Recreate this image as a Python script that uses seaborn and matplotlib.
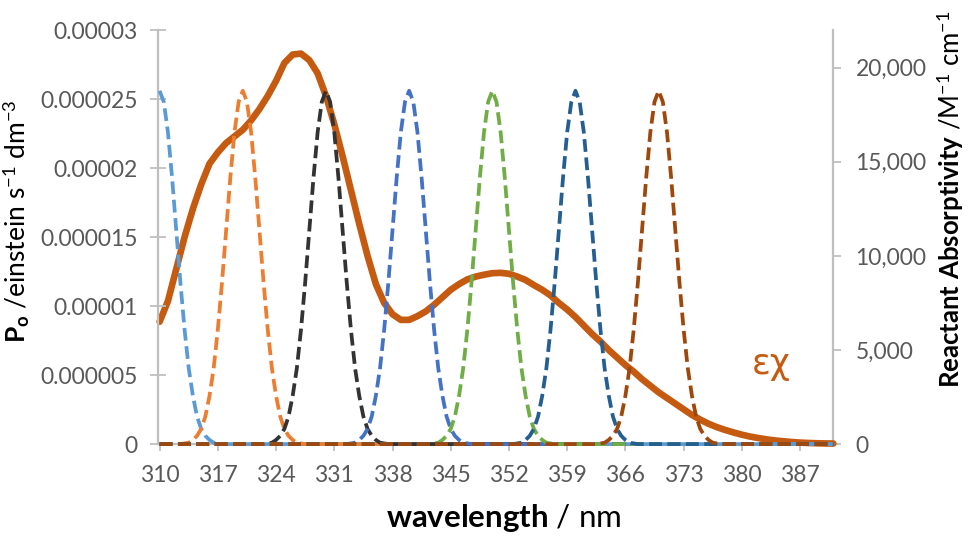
import numpy as np
import pandas as pd
import seaborn as sns
import matplotlib.pyplot as plt

# reactant absorptivity, every nm (M-1 cm-1)
eps_nm = list(range(310, 392))
eps_x = [6500, 7600, 9300, 11000, 12500, 13800, 14900, 15500, 16000, 16350,
         16700, 17200, 17800, 18500, 19300, 20250, 20700, 20750, 20400, 19700,
         18500, 17000, 15300, 13500, 11700, 10000, 8500, 7500, 6900, 6600,
         6600, 6800, 7050, 7400, 7800, 8200, 8500, 8750, 8900, 9000,
         9080, 9100, 9050, 8900, 8720, 8450, 8200, 7900, 7500, 7150,
         6750, 6300, 5850, 5450, 5000, 4600, 4200, 3850, 3450, 3100,
         2750, 2450, 2150, 1850, 1550, 1300, 1080, 900, 750, 620,
         500, 400, 320, 250, 190, 150, 110, 80, 60, 45,
         35, 30]

# lamp emission, same shape for every lamp, read in half-nm steps around the centre
lamp_centres = [310, 320, 330, 340, 350, 360, 370]
lamp_colors = ['#5B9BD5', '#ED7D31', '#333333', '#4472C4', '#70AD47', '#255E91', '#9E480E']
profile_offset = [-7.0, -6.5, -6.0, -5.5, -5.0, -4.5, -4.0, -3.5, -3.0, -2.5, -2.0, -1.5, -1.0, -0.5,
                  0.0, 0.5, 1.0, 1.5, 2.0, 2.5, 3.0, 3.5, 4.0, 4.5, 5.0, 5.5, 6.0, 6.5, 7.0]
profile_P = [0.05e-6, 0.1e-6, 0.3e-6, 0.6e-6, 1.1e-6, 2.0e-6, 3.5e-6, 5.5e-6, 8.3e-6, 11.7e-6,
             15.5e-6, 19.3e-6, 22.6e-6, 24.8e-6, 25.6e-6, 24.8e-6, 22.6e-6, 19.3e-6, 15.5e-6,
             11.7e-6, 8.3e-6, 5.5e-6, 3.5e-6, 2.0e-6, 1.1e-6, 0.6e-6, 0.3e-6, 0.1e-6, 0.05e-6]

x_ticks = [310, 317, 324, 331, 338, 345, 352, 359, 366, 373, 380, 387]
left_ticks = [0, 0.000005, 0.00001, 0.000015, 0.00002, 0.000025, 0.00003]
left_labels = ['0', '0.000005', '0.00001', '0.000015', '0.00002', '0.000025', '0.00003']
right_ticks = [0, 5000, 10000, 15000, 20000]
right_labels = ['0', '5,000', '10,000', '15,000', '20,000']

grid = np.arange(310, 391.01, 0.5)
rows = []
for c in lamp_centres:
    lookup = {c + o: p for o, p in zip(profile_offset, profile_P)}
    for w in grid:
        rows.append((c, w, lookup.get(w, 0.0)))
lamps = pd.DataFrame(rows, columns=['centre', 'wavelength', 'P'])
eps = pd.DataFrame({'wavelength': eps_nm, 'eps': eps_x})

sns.set_style('white')
plt.rcParams['font.family'] = ['Lato', 'DejaVu Sans']
plt.rcParams['mathtext.fontset'] = 'custom'
plt.rcParams['mathtext.rm'] = 'Lato'
plt.rcParams['mathtext.bf'] = 'Lato:bold'
plt.rcParams['mathtext.it'] = 'Lato:italic'

axis_grey = '#BFBFBF'
tick_grey = '#595959'

fig = plt.figure(figsize=(9.69, 5.37), dpi=100)
ax = fig.add_axes([0.163, 0.173, 0.697, 0.771])
ax2 = ax.twinx()

sns.lineplot(data=eps, x='wavelength', y='eps', ax=ax2, color='#C55A11', lw=4.8,
             solid_capstyle='round', clip_on=False)
for c, col in zip(lamp_centres, lamp_colors):
    sns.lineplot(data=lamps[lamps['centre'] == c], x='wavelength', y='P', ax=ax,
                 color=col, lw=2.7, dashes=(3.4, 1.5), clip_on=False)

ax.set_zorder(ax2.get_zorder() + 1)
ax.patch.set_visible(False)

ax.set_xlim(309.8, 391)
ax.set_ylim(0, 0.00003)
ax2.set_ylim(0, 22000)
ax.set_xticks(x_ticks)
ax.set_xticklabels([str(t) for t in x_ticks])
ax.set_yticks(left_ticks)
ax.set_yticklabels(left_labels)
ax2.set_yticks(right_ticks)
ax2.set_yticklabels(right_labels)
ax.set_xlabel('')
ax.set_ylabel('')
ax2.set_ylabel('')

for a in (ax, ax2):
    for s in a.spines.values():
        s.set_visible(False)
        s.set_color(axis_grey)
        s.set_linewidth(1.6)
        s.set_zorder(0)
ax.spines['left'].set_visible(True)
ax.spines['bottom'].set_visible(True)
ax2.spines['right'].set_visible(True)

ax.tick_params(axis='y', direction='inout', length=11, width=1.3, color=axis_grey,
               labelsize=16.5, labelcolor=tick_grey, pad=9, left=True)
ax.tick_params(axis='x', direction='out', length=5, width=1.3, color=axis_grey,
               labelsize=16.5, labelcolor=tick_grey, pad=10, bottom=True)
ax2.tick_params(axis='y', direction='out', length=6, width=1.3, color=axis_grey,
                labelsize=16.5, labelcolor=tick_grey, pad=10, right=True)

fig.text(0.520, 0.035, r'$\mathbf{wavelength}$ / nm', ha='center', va='center',
         fontsize=22.5, color='black')
fig.text(0.016, 0.361, r'$\mathbf{P}_{\mathbf{o}}$ /einstein s$^{-1}$ dm$^{-3}$',
         rotation=90, ha='center', va='bottom', fontsize=19, color='black')
fig.text(0.981, 0.277, r'$\mathbf{Reactant\ Absorptivity}$ /M$^{-1}$ cm$^{-1}$',
         rotation=90, ha='center', va='bottom', fontsize=18.5, color='black')
fig.text(0.796, 0.322, 'εχ', ha='center', va='center', fontsize=25,
         color='#C55A11', family=['DejaVu Sans'])

fig.savefig('out.png', dpi=100)
